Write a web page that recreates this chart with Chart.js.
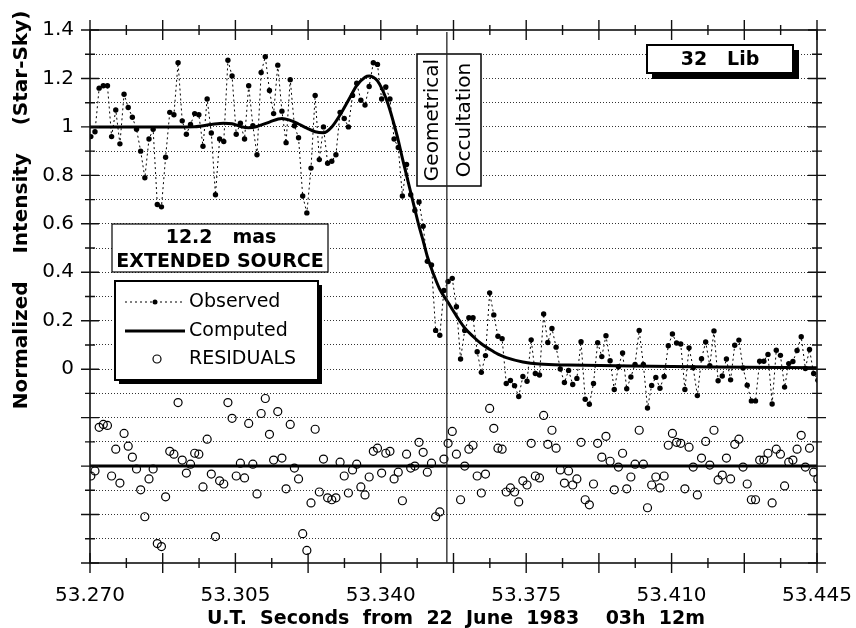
<!DOCTYPE html>
<html><head><meta charset="utf-8">
<script src="https://cdn.jsdelivr.net/npm/chart.js@4/dist/chart.umd.min.js"></script>
<style>html,body{margin:0;padding:0;background:#fff}#wrap{width:856px;height:628px}</style>
</head><body><div id="wrap"><canvas id="c" width="856" height="628"></canvas></div>
<script>
// ---- data ----
const START_TIME = 53.2702;     // first sample, seconds
const SAMPLE_STEP = 0.001;      // 1 ms sampling
const observed = [
 0.96,0.98,1.16,1.17,1.17,0.96,1.07,0.93,1.135,1.08,
 1.04,0.99,0.90,0.79,0.95,0.99,0.68,0.67,0.875,1.06,
 1.05,1.265,1.025,0.97,1.01,1.055,1.05,0.92,1.115,0.975,
 0.72,0.95,0.94,1.275,1.21,0.97,1.015,0.95,1.17,1.005,
 0.885,1.225,1.29,1.15,1.055,1.255,1.065,0.935,1.195,1.005,
 0.955,0.715,0.645,0.83,1.13,0.865,1.0,0.85,0.858,0.885,
 1.06,1.035,1.0,1.13,1.18,1.11,1.09,1.167,1.265,1.258,
 1.115,1.165,1.115,0.95,0.915,0.715,0.845,0.72,0.655,0.69,
 0.59,0.445,0.43,0.16,0.14,0.325,0.362,0.375,0.258,0.042,
 0.16,0.212,0.212,0.072,-0.013,0.056,0.315,0.224,0.136,0.126,
 -0.059,-0.047,-0.068,-0.113,-0.03,-0.05,0.121,-0.018,-0.024,0.228,
 0.11,0.168,0.091,0.001,-0.055,-0.005,-0.063,-0.038,0.113,-0.124,
 -0.145,-0.059,0.109,0.052,0.138,0.035,-0.084,0.01,0.067,-0.081,
 -0.032,0.02,0.16,0.02,-0.16,-0.067,-0.034,-0.079,-0.03,0.097,
 0.145,0.108,0.104,-0.084,0.088,0.006,-0.109,0.043,0.112,0.014,
 0.158,-0.048,-0.028,0.042,-0.044,0.099,0.12,0.005,-0.066,-0.131,
 -0.131,0.033,0.033,0.061,-0.144,0.078,0.057,-0.074,0.023,0.032,
 0.077,0.134,0.003,0.081,-0.018,-0.046
];
const residuals = [
 -0.041,-0.02,0.16,0.172,0.168,-0.041,0.07,-0.07,0.135,0.082,
 0.037,-0.012,-0.098,-0.209,-0.053,-0.012,-0.32,-0.332,-0.127,0.061,
 0.049,0.262,0.025,-0.029,0.008,0.053,0.049,-0.086,0.111,-0.033,
 -0.291,-0.061,-0.074,0.262,0.197,-0.041,0.012,-0.049,0.176,0.008,
 -0.115,0.217,0.279,0.131,0.025,0.225,0.033,-0.094,0.172,-0.008,
 -0.053,-0.279,-0.348,-0.152,0.152,-0.107,0.029,-0.131,-0.139,-0.131,
 0.016,-0.041,-0.111,-0.016,0.008,-0.086,-0.119,-0.045,0.061,0.074,
 -0.029,0.053,0.061,-0.053,-0.025,-0.143,0.049,-0.008,0.0,0.098,
 0.057,-0.025,0.012,-0.209,-0.189,0.029,0.094,0.143,0.049,-0.139,
 0.0,0.07,0.086,-0.041,-0.111,-0.033,0.238,0.156,0.074,0.07,
 -0.107,-0.09,-0.107,-0.148,-0.061,-0.078,0.094,-0.041,-0.049,0.209,
 0.09,0.148,0.074,-0.016,-0.07,-0.02,-0.078,-0.053,0.098,-0.139,
 -0.16,-0.074,0.094,0.037,0.123,0.02,-0.098,-0.004,0.053,-0.094,
 -0.045,0.008,0.148,0.008,-0.172,-0.078,-0.045,-0.09,-0.041,0.086,
 0.135,0.098,0.094,-0.094,0.078,-0.004,-0.119,0.033,0.102,0.004,
 0.148,-0.057,-0.037,0.033,-0.053,0.09,0.111,-0.004,-0.074,-0.139,
 -0.139,0.025,0.025,0.053,-0.152,0.07,0.049,-0.082,0.016,0.025,
 0.07,0.127,-0.004,0.074,-0.025,-0.053
];
const computedTimes = [
 53.2700,53.2802,53.2902,53.2952,53.2992,53.3022,53.3042,53.3062,53.3082,53.3102,
 53.3132,53.3162,53.3182,53.3202,53.3222,53.3242,53.3262,53.3282,53.3302,53.3322,
 53.3342,53.3362,53.3372,53.3382,53.3392,53.3402,53.3412,53.3422,53.3432,53.3442,
 53.3452,53.3462,53.3472,53.3482,53.3492,53.3502,53.3512,53.3522,53.3532,53.3542,
 53.3562,53.3582,53.3602,53.3622,53.3642,53.3662,53.3682,53.3702,53.3742,53.3782,
 53.3852,53.4002,53.4202,53.4450
];
const computedValues = [
 1.000,1.000,1.000,1.001,1.010,1.015,1.013,1.002,0.997,1.002,
 1.020,1.035,1.027,1.012,0.995,0.980,0.976,1.000,1.050,1.110,
 1.170,1.205,1.210,1.205,1.190,1.160,1.120,1.070,1.010,0.945,
 0.870,0.800,0.730,0.660,0.590,0.530,0.465,0.415,0.370,0.330,
 0.275,0.220,0.170,0.135,0.105,0.082,0.062,0.048,0.030,0.021,
 0.017,0.013,0.009,0.006
];
const xTickLabels = ['53.270','53.305','53.340','53.375','53.410','53.445'];
const yTickLabels = ['0','0.2','0.4','0.6','0.8','1','1.2','1.4'];
const RESIDUAL_BASELINE = -0.4;     // residuals are plotted about this level
const OCCULTATION_TIME = 53.3559;   // geometrical occultation
const X_MIN = 53.270, X_MAX = 53.445, X_STEP = 0.00875;
const Y_MIN = -0.8, Y_MAX = 1.4, Y_STEP = 0.1;

// ---- build datasets ----
const obsPts = observed.map((v,i)=>({x:START_TIME+i*SAMPLE_STEP, y:v}));
const resPts = residuals.map((v,i)=>({x:START_TIME+i*SAMPLE_STEP, y:RESIDUAL_BASELINE+v}));
const compPts = computedTimes.map((t,i)=>({x:t, y:computedValues[i]}));

const TICK_FONT = {family:'DejaVu Sans', size:20};

const decor = {
  id:'decor',
  beforeDatasetsDraw(chart){
    const {ctx, chartArea:a, scales:{y}} = chart;
    const yb = y.getPixelForValue(RESIDUAL_BASELINE);
    ctx.save();
    ctx.strokeStyle='#000'; ctx.lineWidth=3;
    ctx.beginPath(); ctx.moveTo(a.left,yb); ctx.lineTo(a.right,yb); ctx.stroke();
    ctx.restore();
  },
  afterDatasetsDraw(chart){
    const {ctx, chartArea:a, scales:{x,y}} = chart;
    ctx.save();
    ctx.strokeStyle='#111'; ctx.fillStyle='#000';
    // frame
    ctx.lineWidth=1.6;
    ctx.strokeRect(a.left, a.top, a.right-a.left, a.bottom-a.top);
    // x ticks (top & bottom)
    ctx.lineWidth=1.4;
    x.ticks.forEach((t,j)=>{
      const px = x.getPixelForValue(t.value);
      const L = j%2===0 ? 10 : 5;
      ctx.beginPath();
      ctx.moveTo(px,a.bottom-L); ctx.lineTo(px,a.bottom+L);
      ctx.moveTo(px,a.top-L); ctx.lineTo(px,a.top+L);
      ctx.stroke();
    });
    y.ticks.forEach(t=>{
      const py = y.getPixelForValue(t.value);
      const major = Math.round(t.value*10)%2===0;
      const L = major ? 9 : 5;
      ctx.beginPath();
      ctx.moveTo(a.left-L,py); ctx.lineTo(a.left+L,py);
      ctx.moveTo(a.right-L,py); ctx.lineTo(a.right+L,py);
      ctx.stroke();
    });

    // "32 Lib" box with shadow
    ctx.fillStyle='#000'; ctx.fillRect(652,50,147,29);
    ctx.fillStyle='#fff'; ctx.fillRect(647,45,146,28);
    ctx.lineWidth=2; ctx.strokeStyle='#000'; ctx.strokeRect(647,45,146,28);
    ctx.fillStyle='#000'; ctx.font='bold 19px "DejaVu Sans"';
    ctx.textAlign='center'; ctx.textBaseline='middle';
    ctx.fillText('32   Lib', 720, 60);

    // "12.2 mas / EXTENDED SOURCE" box
    ctx.fillStyle='#fff'; ctx.fillRect(112,224,216,48);
    ctx.lineWidth=1.2; ctx.strokeRect(112,224,216,48);
    ctx.fillStyle='#000'; ctx.font='bold 19px "DejaVu Sans"';
    ctx.fillText('12.2   mas', 221, 238);
    ctx.fillText('EXTENDED SOURCE', 220, 262);

    // legend box with shadow
    ctx.fillStyle='#000'; ctx.fillRect(119,285,203,99);
    ctx.fillStyle='#fff'; ctx.fillRect(115,281,203,99);
    ctx.lineWidth=2; ctx.strokeRect(115,281,203,99);
    ctx.textAlign='left'; ctx.fillStyle='#000';
    ctx.font='19px "DejaVu Sans"';
    ctx.lineWidth=1; ctx.setLineDash([2,3]);
    ctx.beginPath(); ctx.moveTo(125,302); ctx.lineTo(185,302); ctx.stroke();
    ctx.setLineDash([]);
    ctx.beginPath(); ctx.arc(155,302,2.5,0,Math.PI*2); ctx.fill();
    ctx.fillText('Observed', 189, 302);
    ctx.lineWidth=3;
    ctx.beginPath(); ctx.moveTo(125,331); ctx.lineTo(185,331); ctx.stroke();
    ctx.fillText('Computed', 189, 331);
    ctx.lineWidth=1.2;
    ctx.beginPath(); ctx.arc(157,359,4,0,Math.PI*2); ctx.stroke();
    ctx.fillText('RESIDUALS', 189, 359);

    // Geometrical Occultation box
    ctx.fillStyle='#fff'; ctx.fillRect(417,54,64,132);
    ctx.lineWidth=1.5; ctx.strokeRect(417,54,64,132);
    ctx.fillStyle='#000'; ctx.font='20px "DejaVu Sans"'; ctx.textAlign='center';
    ctx.save(); ctx.translate(433,120); ctx.rotate(-Math.PI/2); ctx.fillText('Geometrical',0,0); ctx.restore();
    ctx.save(); ctx.translate(465,120); ctx.rotate(-Math.PI/2); ctx.fillText('Occultation',0,0); ctx.restore();

    // occultation line
    const xo = x.getPixelForValue(OCCULTATION_TIME);
    ctx.lineWidth=1.3; ctx.strokeStyle='#222';
    ctx.beginPath(); ctx.moveTo(xo,a.top+2); ctx.lineTo(xo,a.bottom); ctx.stroke();

    // axis titles
    ctx.fillStyle='#000'; ctx.font='bold 19px "DejaVu Sans"'; ctx.textAlign='center'; ctx.textBaseline='middle';
    ctx.fillText('U.T.  Seconds  from  22  June  1983    03h  12m', 456, 619);
    ctx.font='bold 20px "DejaVu Sans"';
    ctx.save(); ctx.translate(22,210); ctx.rotate(-Math.PI/2);
    ctx.fillText('Normalized    Intensity    (Star-Sky)',0,0); ctx.restore();
    ctx.restore();
  }
};

new Chart(document.getElementById('c'), {
  type:'scatter',
  data:{datasets:[
    {label:'Computed', data:compPts, showLine:true, borderColor:'#000', borderWidth:3,
     pointRadius:0, cubicInterpolationMode:'monotone', order:0},
    {label:'Observed', data:obsPts, showLine:true, borderColor:'#000', borderWidth:1,
     borderDash:[2,3], pointRadius:2.7, pointBackgroundColor:'#000', pointBorderWidth:0, order:1},
    {label:'RESIDUALS', data:resPts, showLine:false, pointRadius:4, pointBorderWidth:1.2,
     pointBorderColor:'#000', pointBackgroundColor:'rgba(255,255,255,0)', order:2}
  ]},
  options:{
    responsive:false, animation:false, devicePixelRatio:1,
    layout:{padding:{top:30,right:39,left:0,bottom:0}},
    plugins:{legend:{display:false}, tooltip:{enabled:false}},
    scales:{
      x:{type:'linear', min:X_MIN, max:X_MAX,
        afterFit(s){ s.height = 65; s.paddingLeft = 0; s.paddingRight = 0; },
        border:{display:false},
        grid:{display:false, drawTicks:false},
        ticks:{stepSize:X_STEP, autoSkip:false, maxRotation:0, minRotation:0, padding:21,
          color:'#000', font:TICK_FONT,
          callback:(v,i)=> i%4===0 ? xTickLabels[i/4] : ''}
      },
      y:{min:Y_MIN, max:Y_MAX,
        afterFit(s){ s.width = 90; s.paddingTop = 0; s.paddingBottom = 0; },
        border:{display:false, dash:[1,2]},
        grid:{drawTicks:false, lineWidth:1,
          color:(c)=>{ const v=c.tick?c.tick.value:0; return (Math.abs(v-Y_MAX)<1e-6||Math.abs(v-Y_MIN)<1e-6)?'rgba(0,0,0,0)':'#333'; }},
        ticks:{stepSize:Y_STEP, autoSkip:false, padding:16, color:'#000', font:TICK_FONT,
          callback:(v)=>{ const k=Math.round(v*10); return (k>=0 && k%2===0) ? yTickLabels[k/2] : ''; }}
      }
    }
  },
  plugins:[decor]
});
</script>
</body></html>
